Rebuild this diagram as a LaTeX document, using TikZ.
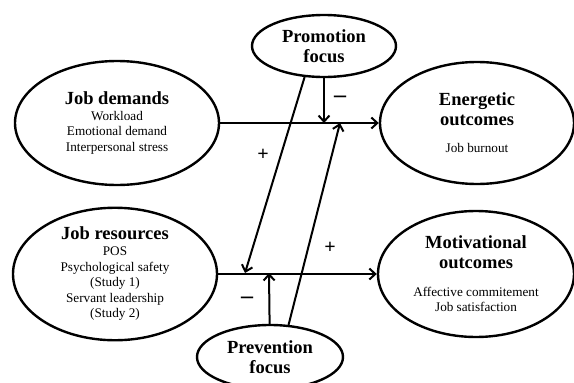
\documentclass[tikz,border=0pt]{standalone}
\usepackage{fontspec}
\setmainfont{Liberation Serif}
\usetikzlibrary{shapes.geometric, arrows.meta}

\tikzset{
  construct/.style={ellipse, draw, line width=2.4pt, align=center, inner sep=0pt,
    font=\fontsize{13.2}{15.6}\selectfont},
  path/.style={line width=2pt, -{Straight Barb[length=6pt, width=11pt, line width=2pt]}},
  sign/.style={font=\fontsize{20}{20}\selectfont\bfseries}
}
\newcommand{\cname}[1]{{\fontsize{18.5}{21}\selectfont\bfseries #1}}

\begin{document}
\begin{tikzpicture}[x=1pt, y=-1pt]
\useasboundingbox (0,0) rectangle (574,383);

\node[construct, minimum width=204pt, minimum height=124pt] (dem) at (117,123)
  {\cname{Job demands}\\Workload\\Emotional demand\\Interpersonal stress};
\node[construct, minimum width=194pt, minimum height=122pt] (ene) at (477,123)
  {\cname{Energetic}\\[4pt]\cname{outcomes}\\[12pt]Job burnout};
\node[construct, minimum width=204pt, minimum height=126pt] (res) at (115,274)
  {\cname{Job resources}\\POS\\Psychological safety\\(Study 1)\\Servant leadership\\(Study 2)};
\node[construct, minimum width=196pt, minimum height=126pt] (mot) at (476,274)
  {\cname{Motivational}\\[4pt]\cname{outcomes}\\[12pt]Affective commitement\\Job satisfaction};
\node[construct, minimum width=144pt, minimum height=62pt] (pro) at (324,46)
  {\cname{Promotion}\\[4pt]\cname{focus}};
\node[construct, minimum width=146pt, minimum height=64pt] (pre) at (270,357)
  {\cname{Prevention}\\[4pt]\cname{focus}};

% moderation points on the two main paths
\coordinate (m1) at (324,123);
\coordinate (m2) at (340,123);
\coordinate (m3) at (245,273);
\coordinate (m4) at (269,273);

\draw[path] (dem) -- (ene);
\draw[path] (res) -- (mot);
\draw[path] (pro) -- (m1);
\draw[path] (pro.238) -- (m3);
\draw[path] (pre.60) -- (m2);
\draw[path] (pre) -- (m4);

\node[sign, font=\fontsize{24}{24}\selectfont\bfseries] (s1) at (340,99) {–};
\node[sign] (s2) at (263,155) {+};
\node[sign, font=\fontsize{24}{24}\selectfont\bfseries] (s3) at (247,300) {–};
\node[sign] (s4) at (330,248) {+};
\end{tikzpicture}
\end{document}
